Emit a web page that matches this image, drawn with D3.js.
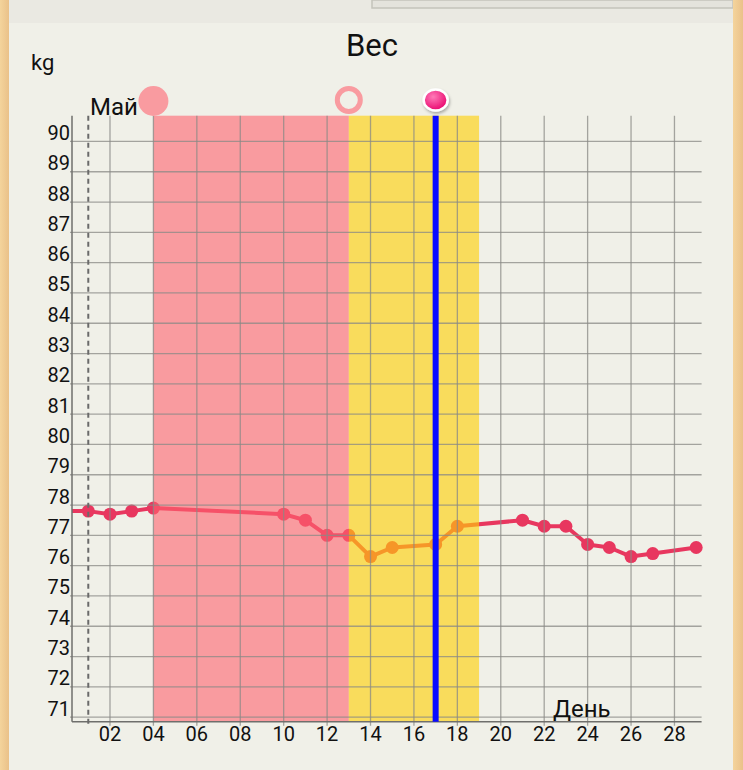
<!DOCTYPE html>
<html lang="ru">
<head>
  <meta charset="UTF-8" />
  <title>Вес</title>
  <script src="https://d3js.org/d3.v7.min.js"></script>
  <style>
    body { margin: 0; background: #f0f0e8; }
    text { font-family: Roboto, "Noto Sans", sans-serif; fill: #111; }
  </style>
</head>
<body>
  <svg id="chart" width="743" height="770"></svg>

  <script>
    // weight per day of May (day 0 = last value of previous month, clipped)
    const days = [0, 1, 2, 3, 4, 10, 11, 12, 13, 14, 15, 17, 18, 21, 22, 23, 24, 25, 26, 27, 29];
    const weights = [77.8, 77.8, 77.7, 77.8, 77.9, 77.7, 77.5, 77.0, 77.0, 76.3, 76.6, 76.7, 77.3, 77.5, 77.3, 77.3, 76.7, 76.6, 76.3, 76.4, 76.6];

    const yTicks = d3.range(71, 91);
    const xTicks = [2, 4, 6, 8, 10, 12, 14, 16, 18, 20, 22, 24, 26, 28];

    const periodDays = [4, 13];      // pink band
    const fertileDays = [13, 19];    // yellow band
    const ovulationDay = 17;
    const monthStartDay = 1;

    const svg = d3.select("#chart");
    const W = 743, H = 770;

    const x = d3.scaleLinear().domain([0.25, 29.25]).range([72, 701.6]);
    const y = d3.scaleLinear().domain([70.85, 90.85]).range([721.7, 115.7]);

    // background, top strip, wooden frame
    svg.append("rect").attr("width", W).attr("height", H).attr("fill", "#f0f0e8");
    svg.append("rect").attr("width", W).attr("height", 23).attr("fill", "#eae9e2");
    svg.append("rect").attr("x", 372).attr("y", 0).attr("width", 361).attr("height", 8)
      .attr("fill", "#e4e3dc").attr("stroke", "#c4c3bb").attr("stroke-width", 1.5);

    const defs = svg.append("defs");
    const wood = defs.append("linearGradient").attr("id", "wood");
    wood.append("stop").attr("offset", "0%").attr("stop-color", "#f4d49c");
    wood.append("stop").attr("offset", "100%").attr("stop-color", "#eac189");
    svg.append("rect").attr("x", 0).attr("width", 9).attr("height", H).attr("fill", "url(#wood)");
    svg.append("rect").attr("x", 733).attr("width", 10).attr("height", H).attr("fill", "url(#wood)");

    defs.append("clipPath").attr("id", "plotClip")
      .append("rect").attr("x", 72).attr("y", 110).attr("width", 640).attr("height", 612);

    const ovGrad = defs.append("radialGradient").attr("id", "ovGrad")
      .attr("cx", "40%").attr("cy", "35%").attr("r", "70%");
    ovGrad.append("stop").attr("offset", "0%").attr("stop-color", "#ff7ab8");
    ovGrad.append("stop").attr("offset", "100%").attr("stop-color", "#e8006a");

    const shadow = defs.append("filter").attr("id", "shadow")
      .attr("x", "-50%").attr("y", "-50%").attr("width", "200%").attr("height", "200%");
    shadow.append("feDropShadow").attr("dx", 1).attr("dy", 2).attr("stdDeviation", 1.5)
      .attr("flood-color", "#000").attr("flood-opacity", 0.3);

    // weight line + points (under translucent bands)
    const data = days.map((d, i) => ({ day: d, kg: weights[i] }));
    const plot = svg.append("g").attr("clip-path", "url(#plotClip)");
    plot.append("path")
      .datum(data)
      .attr("fill", "none")
      .attr("stroke", "#e8375f")
      .attr("stroke-width", 4)
      .attr("stroke-linejoin", "round")
      .attr("d", d3.line().x(d => x(d.day)).y(d => y(d.kg)));
    plot.selectAll("circle.pt")
      .data(data.filter(d => d.day >= 1))
      .join("circle")
      .attr("class", "pt")
      .attr("cx", d => x(d.day))
      .attr("cy", d => y(d.kg))
      .attr("r", 6.5)
      .attr("fill", "#e8375f");

    // bands
    svg.append("rect")
      .attr("x", x(periodDays[0])).attr("y", y.range()[1])
      .attr("width", x(periodDays[1]) - x(periodDays[0]))
      .attr("height", y.range()[0] - y.range()[1])
      .attr("fill", "#ff626e").attr("fill-opacity", 0.6);
    svg.append("rect")
      .attr("x", x(fertileDays[0])).attr("y", y.range()[1])
      .attr("width", x(fertileDays[1]) - x(fertileDays[0]))
      .attr("height", y.range()[0] - y.range()[1])
      .attr("fill", "#ffd106").attr("fill-opacity", 0.62);

    // grid
    const grid = svg.append("g").attr("stroke", "#8a8a86").attr("stroke-opacity", 0.75).attr("stroke-width", 1.3);
    grid.selectAll("line.h")
      .data(yTicks)
      .join("line")
      .attr("x1", 70).attr("x2", x.range()[1])
      .attr("y1", d => y(d)).attr("y2", d => y(d));
    grid.selectAll("line.v")
      .data(xTicks)
      .join("line")
      .attr("x1", d => x(d)).attr("x2", d => x(d))
      .attr("y1", y.range()[1]).attr("y2", y.range()[0] + 4);

    // axes lines
    svg.append("line")
      .attr("x1", x.range()[0]).attr("x2", x.range()[0])
      .attr("y1", y.range()[1]).attr("y2", y.range()[0])
      .attr("stroke", "#6f6f6c").attr("stroke-width", 1.5);
    svg.append("line")
      .attr("x1", x.range()[0]).attr("x2", x.range()[1])
      .attr("y1", y.range()[0]).attr("y2", y.range()[0])
      .attr("stroke", "#6f6f6c").attr("stroke-width", 1.5);

    // month start dashed line
    svg.append("line")
      .attr("x1", x(monthStartDay)).attr("x2", x(monthStartDay))
      .attr("y1", y.range()[1]).attr("y2", y.range()[0] + 4)
      .attr("stroke", "#6a6a6a").attr("stroke-width", 2)
      .attr("stroke-dasharray", "5,4");

    // ovulation line
    svg.append("line")
      .attr("x1", x(ovulationDay)).attr("x2", x(ovulationDay))
      .attr("y1", y.range()[1]).attr("y2", y.range()[0])
      .attr("stroke", "#0a0aff").attr("stroke-width", 6);

    // tick labels
    svg.selectAll("text.yt")
      .data(yTicks)
      .join("text")
      .attr("x", 70).attr("y", d => y(d) - 1.5)
      .attr("text-anchor", "end")
      .attr("font-size", 20)
      .text(d => d);
    svg.selectAll("text.xt")
      .data(xTicks)
      .join("text")
      .attr("x", d => x(d)).attr("y", 741)
      .attr("text-anchor", "middle")
      .attr("font-size", 20)
      .text(d => String(d).padStart(2, "0"));

    // titles
    svg.append("text").attr("x", 372).attr("y", 56).attr("text-anchor", "middle")
      .attr("font-size", 31).text("Вес");
    svg.append("text").attr("x", 31).attr("y", 70).attr("font-size", 22).text("kg");
    svg.append("text").attr("x", 90).attr("y", 115).attr("font-size", 24).text("Май");
    svg.append("text").attr("x", 553).attr("y", 717).attr("font-size", 24).text("День");

    // top markers
    svg.append("circle").attr("cx", x(periodDays[0])).attr("cy", 101).attr("r", 15)
      .attr("fill", "#f99ba0");
    svg.append("circle").attr("cx", x(periodDays[1])).attr("cy", 100).attr("r", 11.5)
      .attr("fill", "none").attr("stroke", "#f99ba0").attr("stroke-width", 5);
    svg.append("ellipse").attr("cx", x(ovulationDay)).attr("cy", 100).attr("rx", 12).attr("ry", 10.5)
      .attr("fill", "url(#ovGrad)").attr("stroke", "#fff").attr("stroke-width", 2.5)
      .attr("filter", "url(#shadow)");
  </script>
</body>
</html>
